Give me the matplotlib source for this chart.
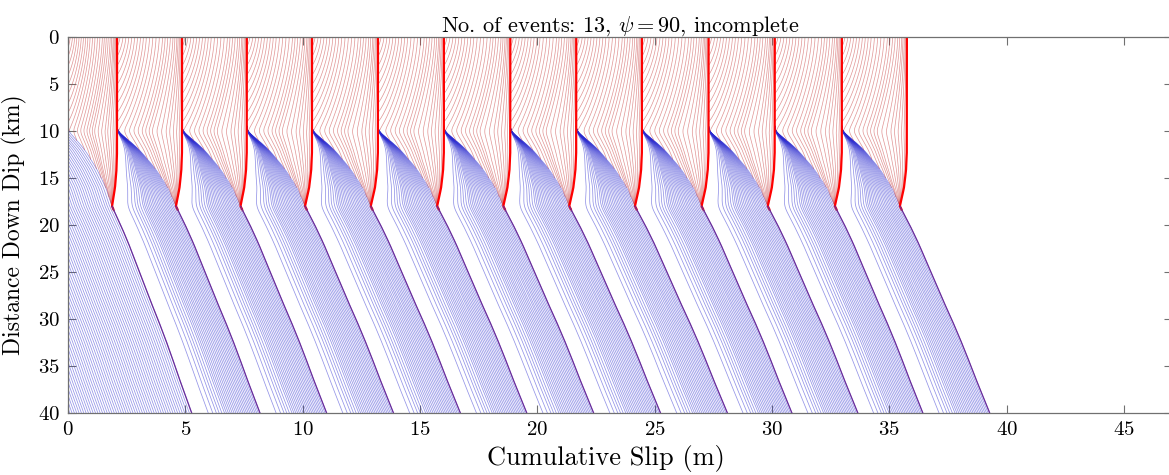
import numpy as np
import matplotlib
matplotlib.use('Agg')
import matplotlib.pyplot as plt

plt.rcParams['font.family'] = 'serif'
plt.rcParams['font.serif'] = ['cmr10']
plt.rcParams['mathtext.fontset'] = 'cm'
plt.rcParams['axes.formatter.use_mathtext'] = True
plt.rcParams['axes.unicode_minus'] = False

# slip (m) for each of the 13 events
top_slip = [2.09, 4.86, 7.62, 10.40, 13.21, 16.02, 18.85, 21.66, 24.46, 27.30, 30.12, 32.98, 35.75]   # surface, after event
tip_slip = [1.87, 4.60, 7.35, 10.10, 12.90, 15.73, 18.55, 21.36, 24.16, 27.00, 29.82, 32.68, 35.45]   # at ~18 km
bottom_slip = [5.27, 8.18, 11.02, 13.87, 16.72, 19.55, 22.40, 25.25, 28.10, 30.85, 33.66, 36.43, 39.28]  # at 40 km

# profile shapes (fraction of the slip change)
deep_z = [18, 20, 22, 24, 26, 28, 30, 32, 34, 36, 38, 40]
deep_frac = [0, 0.11, 0.21, 0.30, 0.39, 0.48, 0.575, 0.665, 0.75, 0.83, 0.915, 1.0]
pre_z = [0, 10, 11, 12, 14, 16, 18]
pre_frac = [0, 0, 0.2, 0.38, 0.65, 0.86, 1.0]
post_z = [0, 12, 14, 16, 18]
post_frac = [0, 0, 0.1, 0.4, 1.0]

# interseismic (blue) line fractions
blue_frac = [0.17, 0.23, 0.28, 0.32, 0.36, 0.40, 0.43, 0.46, 0.49, 0.52, 0.55, 0.58, 0.61, 0.64,
             0.67, 0.70, 0.73, 0.76, 0.79, 0.82, 0.85, 0.88, 0.91, 0.94, 0.97, 1.0]
# first cycle: offsets (m) of the lines behind the first rupture profile
blue_shift_first = [0.0, 0.1, 0.2, 0.3, 0.4, 0.5, 0.6, 0.7, 0.8, 0.9, 1.0, 1.1, 1.2, 1.3, 1.4,
                    1.5, 1.6, 1.7, 1.8, 1.9, 2.0, 2.1, 2.2, 2.3, 2.4, 2.5, 2.6, 2.7, 2.8, 2.9,
                    3.0, 3.1, 3.2, 3.3, 3.4, 3.5, 3.6, 3.7, 3.8, 3.9, 4.0, 4.1, 4.2, 4.3, 4.4,
                    4.5, 4.6, 4.7, 4.8, 4.9, 5.0, 5.1, 5.2]
expo_z = [0, 10.5, 14, 40]
expo_val = [0.45, 0.45, 0.8, 0.8]

# coseismic (red) lines: amplitude and depth reached
red_amp = [0.045, 0.09, 0.135, 0.18, 0.225, 0.27, 0.315, 0.36, 0.405, 0.45, 0.5, 0.55, 0.6, 0.65,
           0.7, 0.74, 0.78, 0.82, 0.86, 0.89, 0.92, 0.94, 0.96, 0.975, 0.99, 1.0]
red_depth = [1, 2, 3, 4, 5, 6, 7, 8, 9, 10, 11, 12, 13, 14, 15, 16, 17, 18, 20, 23, 27, 32,
             40, 55, 80, 200]

depth = np.linspace(0, 40, 401)
i18 = 180


def smooth(y, n):
    w = np.hanning(n)
    w = w / w.sum()
    pad = np.pad(y, n // 2, mode='reflect', reflect_type='odd')
    return np.convolve(pad, w, mode='valid')


expo = smooth(np.interp(depth, expo_z, expo_val), 21)


def pre_profile(k):
    left = top_slip[k - 1] if k > 0 else 0.0
    zk = pre_z + deep_z[1:]
    xk = [left + (tip_slip[k] - left) * f for f in pre_frac] + \
         [tip_slip[k] + (bottom_slip[k] - tip_slip[k]) * f for f in deep_frac[1:]]
    x = smooth(np.interp(depth, zk, xk), 17)
    return np.where(depth < 9, left, x)


def post_profile(k):
    if k < 0:
        return np.zeros_like(depth)
    pre = pre_profile(k)
    right = top_slip[k]
    shape = smooth(np.interp(depth, post_z, post_frac), 11)
    shape = np.clip(shape / shape[i18], 0, 1)
    shallow = right + (pre[i18] - right) * shape
    return np.where(depth < 18, shallow, pre)


fig = plt.figure(figsize=(11.69, 4.75), dpi=100)
ax = fig.add_axes([0.0582, 0.1305, 0.9444, 0.7916])

blue = dict(color='#2a2ad0', lw=0.55, alpha=0.5)

# first interseismic period: lines parallel to the first pre-event profile
pre0 = pre_profile(0)
for s in blue_shift_first:
    x = np.maximum(pre0 - s, 0)
    x = np.where(depth < 9.5, np.nan, x)
    ax.plot(x, depth, **blue)

# later interseismic periods
for k in range(1, len(top_slip)):
    prev = post_profile(k - 1)
    prev = np.where(depth < 11, prev, smooth(prev, 25))
    pre = pre_profile(k)
    for c in blue_frac:
        x = prev + (pre - prev) * c ** expo
        x = np.where(depth < 9.5, np.nan, x)
        ax.plot(x, depth, **blue)

# red coseismic lines
for k in range(len(top_slip)):
    pre = pre_profile(k)
    post = post_profile(k)
    for a, d in zip(red_amp, red_depth):
        taper = np.clip(1 - (depth / d) ** 1.5, 0, None) ** 0.8
        x = pre + (post - pre) * a * taper
        x = np.where(depth > min(d, 18.5), np.nan, x)
        ax.plot(x, depth, color='#c83c3c', lw=0.5, alpha=0.55)

# final profiles after each event
for k in range(len(top_slip)):
    post = post_profile(k)
    ax.plot(np.where(depth <= 18.3, post, np.nan), depth, color='#ff0000', lw=1.6)
    ax.plot(np.where(depth >= 18, post, np.nan), depth, color='#6a2c9a', lw=0.9)

ax.set_xlim(0, 47.05)
ax.set_ylim(40, 0)
ax.set_xticks(range(0, 50, 5))
ax.set_yticks(range(0, 45, 5))
for s in ax.spines.values():
    s.set_color('#707070')
    s.set_linewidth(0.9)
ax.tick_params(direction='in', length=6, width=0.8, color='#707070', top=True, right=True,
               labelsize=15, pad=6)
ax.set_xlabel('Cumulative Slip (m)', fontsize=19, labelpad=0)
ax.xaxis.set_label_coords(0.487, -0.085)
ax.set_ylabel('Distance Down Dip (km)', fontsize=17, labelpad=8)
ax.set_title(r'No. of events: 13, $\psi = 90$, incomplete', fontsize=16, pad=4)

fig.savefig('out.png', dpi=100)
